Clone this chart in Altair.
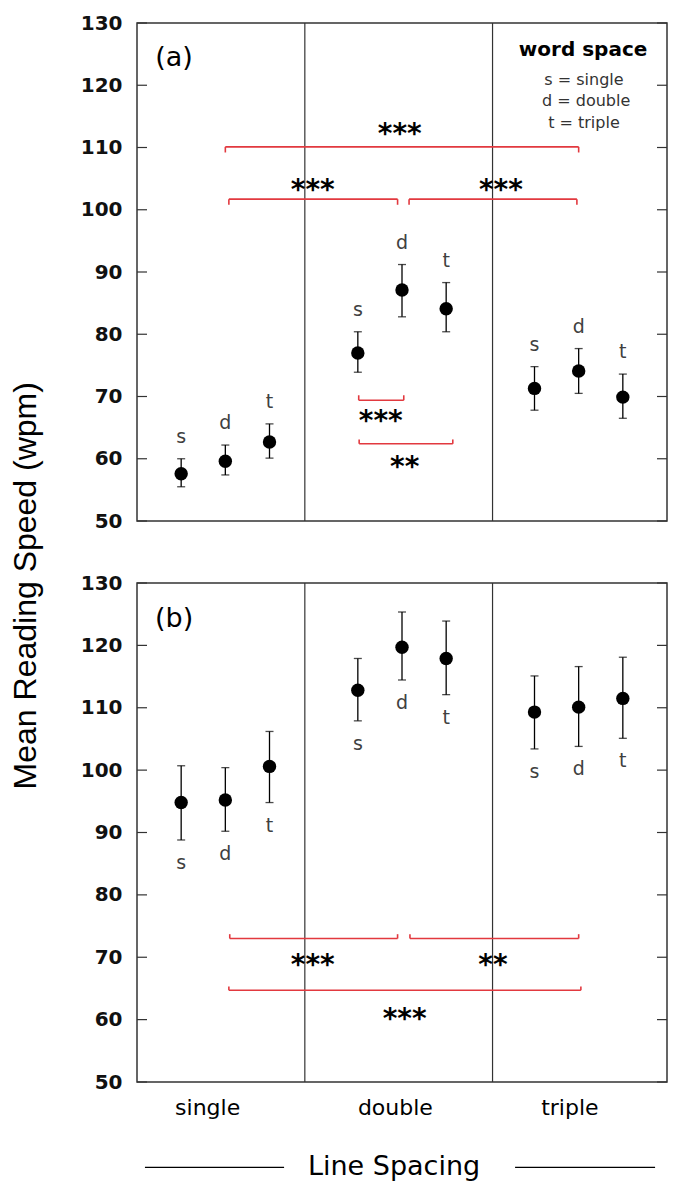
import altair as alt
import pandas as pd

# ---------------- data ----------------
line_spacing = ["single", "double", "triple"]
word_space = ["s", "d", "t"]

# panel (a)
a_mean = [57.6, 59.6, 62.7, 77.0, 87.1, 84.1, 71.3, 74.1, 69.9]
a_hi = [60.0, 62.2, 65.6, 80.4, 91.2, 88.3, 74.8, 77.7, 73.6]
a_lo = [55.5, 57.4, 60.1, 73.9, 82.8, 80.4, 67.8, 70.5, 66.5]

# panel (b)
b_mean = [94.8, 95.2, 100.6, 112.8, 119.7, 117.9, 109.3, 110.1, 111.5]
b_hi = [100.7, 100.4, 106.2, 117.9, 125.35, 123.9, 115.1, 116.6, 118.1]
b_lo = [88.8, 90.2, 94.8, 107.9, 114.45, 112.1, 103.4, 103.8, 105.1]

y_ticks = [50, 60, 70, 80, 90, 100, 110, 120, 130]
separators = [3.8, 8.05]

# significance brackets: x1, x2, y, tick length (data units), stars, star x, star y
a_br_x1 = [2.0, 2.08, 6.16, 5.02, 5.03]
a_br_x2 = [10.0, 5.9, 9.96, 6.04, 7.15]
a_br_y = [110.1, 101.7, 101.7, 69.4, 62.4]
a_br_t = [-0.9, -0.9, -0.9, 0.8, 0.7]
a_stars = ["***", "***", "***", "***", "**"]
a_star_x = [5.95, 3.98, 8.24, 5.52, 6.06]
a_star_y = [113.3, 104.3, 104.3, 67.2, 59.8]

b_br_x1 = [2.1, 6.18, 2.08]
b_br_x2 = [5.9, 10.0, 10.05]
b_br_y = [73.0, 73.0, 64.7]
b_br_t = [0.7, 0.7, 0.6]
b_stars = ["***", "**", "***"]
b_star_x = [3.98, 8.06, 6.06]
b_star_y = [69.8, 69.9, 61.2]

legend_title = "word space"
legend_lines = ["s = single", "d = double", "t = triple"]

FONT = "DejaVu Sans"
RED = "#e2393f"
W, HA, HB = 530, 498, 499

xscale = alt.Scale(domain=[0, 12], nice=False, zero=False)
yscale = alt.Scale(domain=[50, 130], nice=False, zero=False)
yax = alt.Axis(values=y_ticks, ticks=False, domain=False, grid=False,
               labelFont=FONT, labelFontSize=20, labelFontWeight="bold",
               labelColor="#111111", labelPadding=15)


def X(f):
    return alt.X(f, scale=xscale, axis=None, title=None)


def Y(f):
    return alt.Y(f, scale=yscale, axis=yax, title=None)


def slot_table(mean, lo, hi):
    rows = []
    for g in range(3):
        for w in range(3):
            i = 3 * g + w
            rows.append({"pos": 4 * g + w + 1, "ls": line_spacing[g],
                         "ws": word_space[w], "mean": mean[i],
                         "lo": lo[i], "hi": hi[i]})
    return pd.DataFrame(rows)


def bracket_segments(x1, x2, y, t):
    rows = []
    for a, b, c, d in zip(x1, x2, y, t):
        rows.append({"x": a, "x2": b, "y": c, "y2": c})
        rows.append({"x": a, "x2": a, "y": c, "y2": c + d})
        rows.append({"x": b, "x2": b, "y": c, "y2": c + d})
    return pd.DataFrame(rows)


def panel(mean, lo, hi, brx1, brx2, bry, brt, stars, sx, sy, tag, above):
    df = slot_table(mean, lo, hi)
    base = alt.Chart(df)
    seps = alt.Chart(pd.DataFrame({"x": separators})).mark_rule(
        color="#333", strokeWidth=1.2).encode(x=X("x:Q"))
    tdf = pd.DataFrame({"v": y_ticks})
    tick_l = alt.Chart(tdf).mark_rule(color="#333", strokeWidth=1.2).encode(
        x=alt.value(0), x2=alt.value(10), y=Y("v:Q"))
    tick_r = alt.Chart(tdf).mark_rule(color="#333", strokeWidth=1.2).encode(
        x=alt.value(W - 10), x2=alt.value(W), y=Y("v:Q"))
    err = base.mark_rule(color="black", strokeWidth=1.3).encode(
        x=X("pos:Q"), y=Y("lo:Q"), y2="hi:Q")
    cap_hi = base.mark_tick(orient="horizontal", size=8, thickness=1.3,
                            color="black").encode(x=X("pos:Q"), y=Y("hi:Q"))
    cap_lo = base.mark_tick(orient="horizontal", size=8, thickness=1.3,
                            color="black").encode(x=X("pos:Q"), y=Y("lo:Q"))
    pts = base.mark_circle(size=180, color="black", opacity=1).encode(
        x=X("pos:Q"), y=Y("mean:Q"))
    if above:
        lab = base.mark_text(font=FONT, fontSize=19, color="#404040",
                             baseline="alphabetic", dy=-16).encode(
            x=X("pos:Q"), y=Y("hi:Q"), text="ws:N")
    else:
        lab = base.mark_text(font=FONT, fontSize=19, color="#404040",
                             baseline="alphabetic", dy=29).encode(
            x=X("pos:Q"), y=Y("lo:Q"), text="ws:N")
    segs = alt.Chart(bracket_segments(brx1, brx2, bry, brt)).mark_rule(
        color=RED, strokeWidth=1.6).encode(x=X("x:Q"), x2="x2:Q",
                                           y=Y("y:Q"), y2="y2:Q")
    st = alt.Chart(pd.DataFrame({"s": stars, "x": sx, "y": sy})).mark_text(
        font=FONT, fontSize=28, fontWeight="bold", color="black",
        baseline="alphabetic", dy=16).encode(x=X("x:Q"), y=Y("y:Q"), text="s:N")
    tg = alt.Chart(pd.DataFrame({"t": [tag], "x": [0.84], "y": [124.3]})).mark_text(
        font=FONT, fontSize=27, color="black", baseline="middle").encode(
        x=X("x:Q"), y=Y("y:Q"), text="t:N")
    return [seps, tick_l, tick_r, segs, err, cap_hi, cap_lo, pts, lab, st, tg]


layers_a = panel(a_mean, a_lo, a_hi, a_br_x1, a_br_x2, a_br_y, a_br_t,
                 a_stars, a_star_x, a_star_y, "(a)", True)

leg_title = alt.Chart(pd.DataFrame({"t": [legend_title], "x": [10.1], "y": [125.6]})).mark_text(
    font=FONT, fontSize=20, fontWeight="bold", color="black", baseline="middle").encode(
    x=X("x:Q"), y=Y("y:Q"), text="t:N")
leg_body = alt.Chart(pd.DataFrame({"t": legend_lines, "x": [10.12, 10.17, 10.12],
                                   "y": [120.9, 117.4, 113.9]})).mark_text(
    font=FONT, fontSize=16, color="#333333", baseline="middle").encode(
    x=X("x:Q"), y=Y("y:Q"), text="t:N")
ytitle = alt.Chart(pd.DataFrame({"t": ["Mean Reading Speed (wpm)"], "x": [-2.52], "y": [39.6]})).mark_text(
    font="Liberation Sans", fontSize=32, angle=270, baseline="middle", color="black").encode(
    x=X("x:Q"), y=Y("y:Q"), text="t:N")

pa = alt.layer(*layers_a, leg_title, leg_body, ytitle).properties(width=W, height=HA)

layers_b = panel(b_mean, b_lo, b_hi, b_br_x1, b_br_x2, b_br_y, b_br_t,
                 b_stars, b_star_x, b_star_y, "(b)", False)

xl = alt.Chart(pd.DataFrame({"t": line_spacing, "x": [1.6, 5.85, 9.8], "y": [45.8, 45.8, 45.8]})).mark_text(
    font=FONT, fontSize=22, baseline="middle", color="black").encode(
    x=X("x:Q"), y=Y("y:Q"), text="t:N")
xt = alt.Chart(pd.DataFrame({"t": ["Line Spacing"], "x": [5.82], "y": [36.4]})).mark_text(
    font=FONT, fontSize=27, baseline="middle", color="black").encode(
    x=X("x:Q"), y=Y("y:Q"), text="t:N")
xlines = alt.Chart(pd.DataFrame({"x": [0.18, 8.56], "x2": [3.33, 11.73], "y": [36.3, 36.3]})).mark_rule(
    color="black", strokeWidth=1.2).encode(x=X("x:Q"), x2="x2:Q", y=Y("y:Q"))

pb = alt.layer(*layers_b, xl, xt, xlines).properties(width=W, height=HB)

chart = alt.vconcat(pa, pb, spacing=62, bounds="flush",
                    padding={"left": 0, "top": 4, "right": 5, "bottom": 5}).configure_view(
    stroke="#333", strokeWidth=1.5)

chart.save("out.html", embed_options={"renderer": "svg", "actions": False})
